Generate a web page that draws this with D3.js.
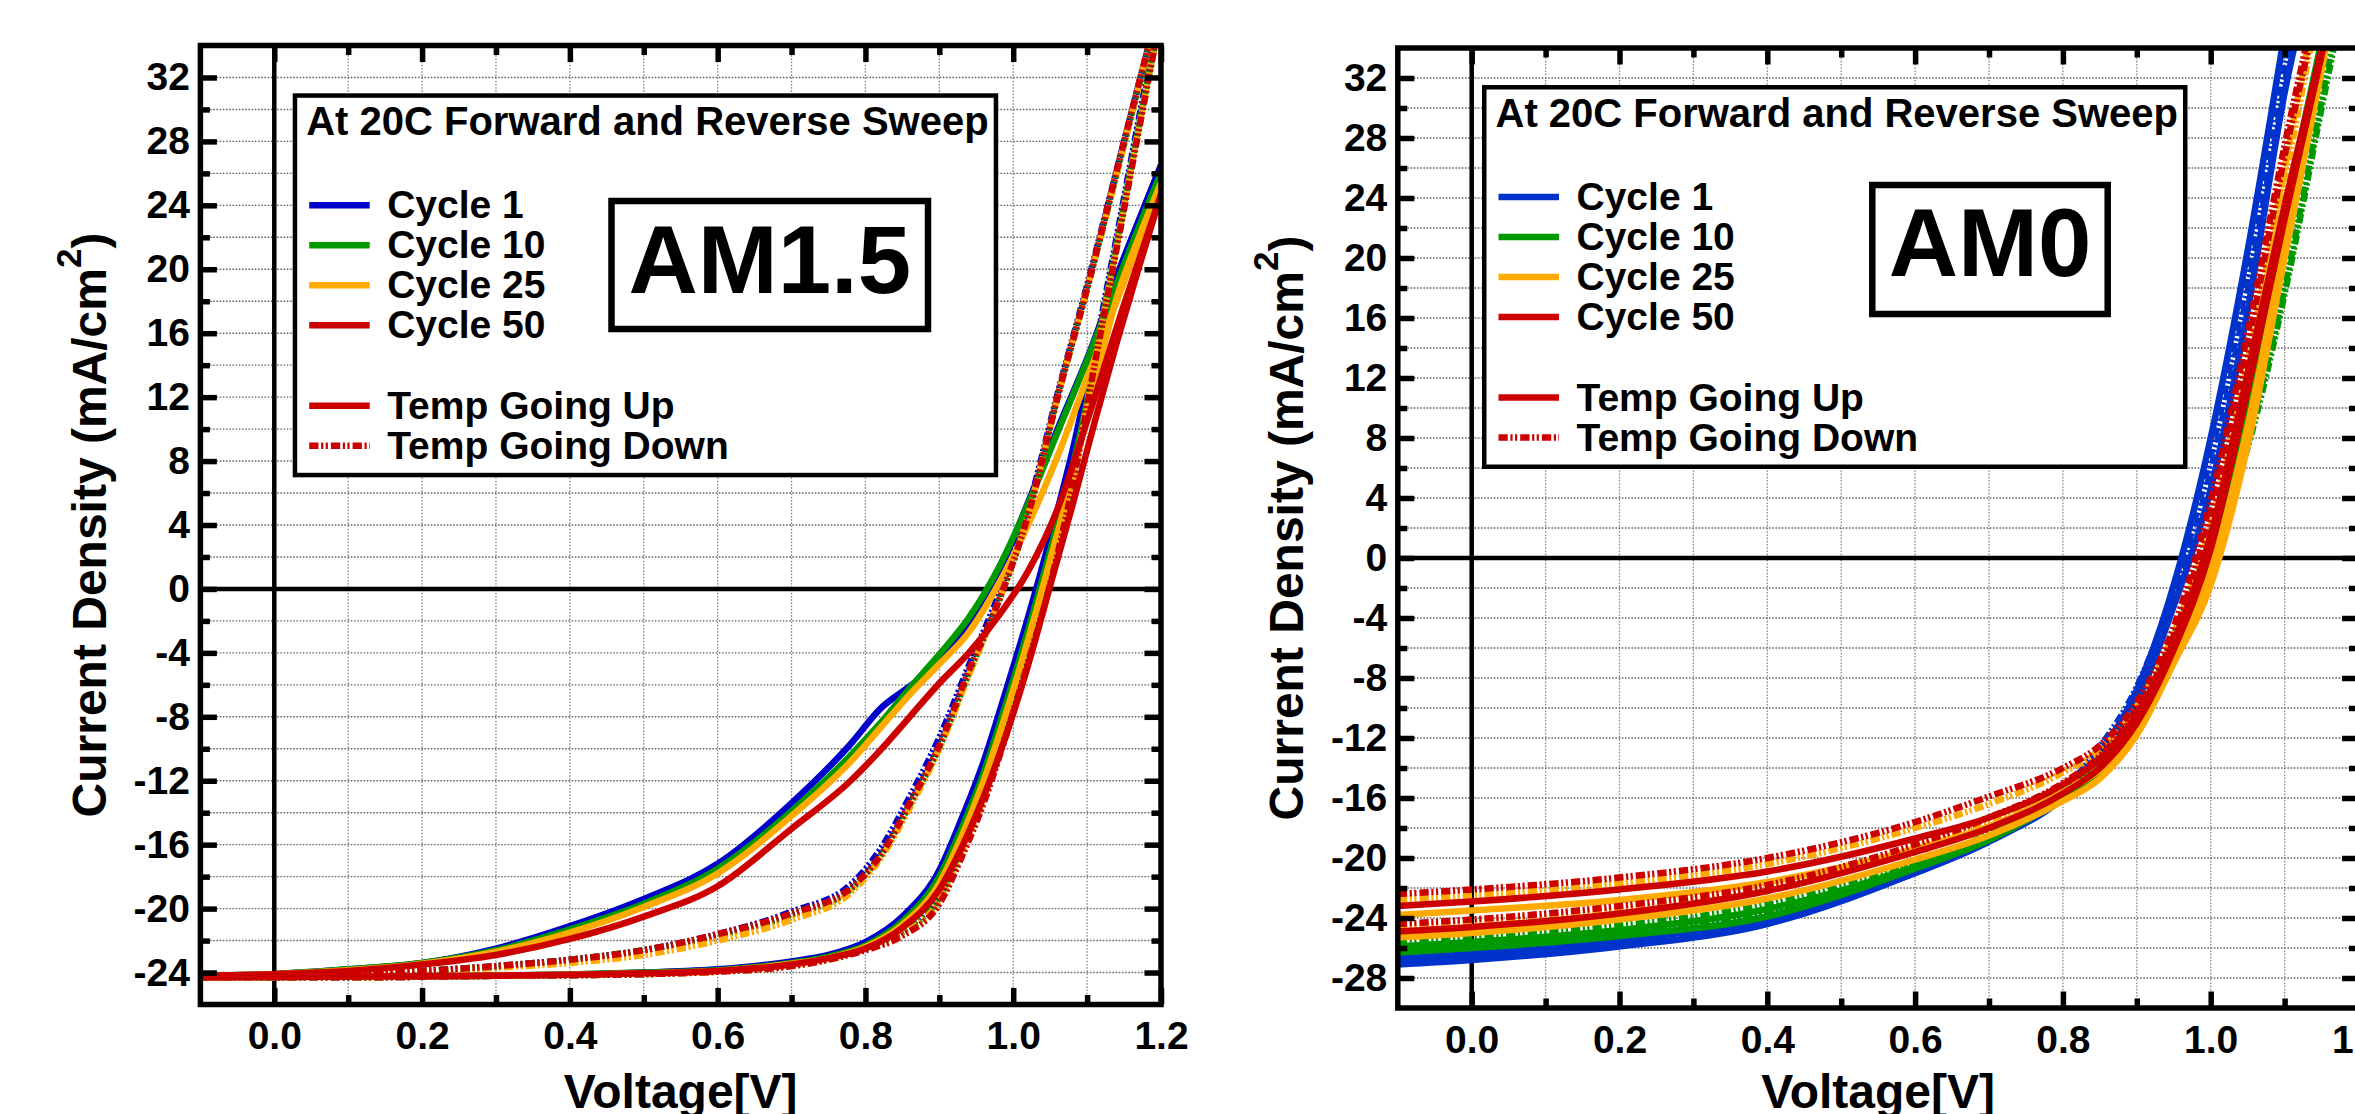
<!DOCTYPE html>
<html>
<head>
<meta charset="utf-8">
<script src="https://cdn.jsdelivr.net/npm/d3@7"></script>
<style>
  html, body { margin: 0; padding: 0; background: #fff; }
  svg { display: block; }
  text { font-family: "Liberation Sans", Arial, Helvetica, sans-serif; font-weight: bold; }
</style>
</head>
<body>
<svg id="chart" width="2355" height="1114"></svg>
<script>
// ---- ticks ----
const xMajorTicks = [0, 0.2, 0.4, 0.6, 0.8, 1.0, 1.2]
const xMinorTicks = [0.1, 0.3, 0.5, 0.7, 0.9, 1.1]
const am15YMajor = [-24, -20, -16, -12, -8, -4, 0, 4, 8, 12, 16, 20, 24, 28, 32]
const am15YMinor = [-22, -18, -14, -10, -6, -2, 2, 6, 10, 14, 18, 22, 26, 30]
const am0YMajor = [-28, -24, -20, -16, -12, -8, -4, 0, 4, 8, 12, 16, 20, 24, 28, 32]
const am0YMinor = [-26, -22, -18, -14, -10, -6, -2, 2, 6, 10, 14, 18, 22, 26, 30]

const legendCycles = ["Cycle 1", "Cycle 10", "Cycle 25", "Cycle 50"]
const legendTemps = ["Temp Going Up", "Temp Going Down"]

// ---- AM1.5 panel: voltage grids (V) ----
const am15VFwd = [-0.1, 0.0, 0.1, 0.2, 0.3, 0.4, 0.5, 0.6, 0.7, 0.78, 0.82, 0.86, 0.9, 0.94, 0.98, 1.02, 1.06, 1.1, 1.15, 1.2]
const am15VRev = [-0.1, 0.1, 0.3, 0.5, 0.6, 0.7, 0.75, 0.8, 0.85, 0.9, 0.93, 0.96, 0.99, 1.02, 1.05, 1.08, 1.11, 1.14, 1.17, 1.2]

// current density (mA/cm2), Up = temp going up (solid), Down = temp going down (dash-dot-dot)
const am15C1UpFwd = [-24.2, -24.1, -23.8, -23.4, -22.5, -21.1, -19.4, -17.2, -13.4, -9.7, -7.5, -6.1, -4.6, -2.2, 1.0, 5.4, 10.0, 14.4, 20.7, 26.5]
const am15C1UpRev = [-24.3, -24.25, -24.2, -24.0, -23.8, -23.3, -22.9, -22.1, -20.5, -17.6, -14.4, -10.8, -6.4, -1.8, 3.2, 8.6, 14.8, 19.5, 23.0, 26.5]
const am15C1DownFwd = [-24.2, -24.2, -24.1, -23.9, -23.6, -23.2, -22.6, -21.6, -20.2, -18.5, -16.3, -13.0, -9.3, -4.8, -0.4, 5.0, 12.2, 19.0, 28.0, 37.0]
const am15C1DownRev = [-24.3, -24.3, -24.2, -24.1, -23.9, -23.5, -23.1, -22.4, -21.4, -19.0, -15.8, -12.3, -8.2, -3.6, 1.2, 7.2, 14.7, 22.0, 29.4, 36.5]

const am15C10UpFwd = [-24.2, -24.1, -23.8, -23.4, -22.6, -21.3, -19.7, -17.5, -13.9, -10.4, -8.4, -6.2, -4.1, -1.8, 1.3, 5.3, 9.8, 14.3, 20.3, 26.0]
const am15C10UpRev = [-24.3, -24.25, -24.2, -24.0, -23.85, -23.4, -23.0, -22.3, -20.8, -18.0, -15.0, -11.5, -7.2, -2.6, 2.4, 7.6, 13.6, 18.8, 22.6, 26.0]
const am15C10DownFwd = [-24.2, -24.2, -24.1, -23.9, -23.6, -23.2, -22.6, -21.7, -20.4, -18.8, -16.7, -13.5, -9.9, -5.3, -0.8, 4.6, 12.0, 18.8, 27.8, 37.0]
const am15C10DownRev = [-24.3, -24.3, -24.2, -24.1, -23.9, -23.5, -23.1, -22.4, -21.5, -19.3, -16.2, -12.8, -8.6, -4.0, 0.8, 6.8, 14.3, 21.6, 29.0, 36.0]

const am15C25UpFwd = [-24.2, -24.1, -23.85, -23.45, -22.7, -21.5, -19.9, -17.8, -14.2, -10.8, -8.7, -6.6, -4.7, -2.7, 0.3, 4.0, 8.3, 13.2, 19.2, 25.4]
const am15C25UpRev = [-24.3, -24.25, -24.2, -24.05, -23.9, -23.45, -23.1, -22.4, -21.0, -18.4, -15.5, -12.0, -7.8, -3.2, 1.8, 7.0, 12.8, 18.2, 22.0, 25.4]
const am15C25DownFwd = [-24.2, -24.2, -24.1, -23.95, -23.7, -23.4, -22.9, -22.0, -20.7, -19.0, -16.9, -13.7, -10.0, -5.4, -0.8, 4.6, 12.0, 18.8, 27.8, 37.0]
const am15C25DownRev = [-24.3, -24.3, -24.2, -24.1, -23.95, -23.6, -23.2, -22.5, -21.6, -19.5, -16.5, -13.1, -8.9, -4.3, 0.5, 6.6, 14.1, 21.4, 28.8, 36.0]

const am15C50UpFwd = [-24.2, -24.1, -23.9, -23.5, -22.9, -21.9, -20.5, -18.6, -15.0, -12.0, -10.1, -8.0, -5.9, -4.0, -1.7, 1.1, 5.0, 10.5, 17.8, 24.7]
const am15C50UpRev = [-24.3, -24.25, -24.2, -24.05, -23.9, -23.5, -23.1, -22.5, -21.2, -18.8, -16.2, -13.0, -9.2, -4.8, 0.2, 5.2, 10.4, 15.4, 20.1, 24.7]
const am15C50DownFwd = [-24.2, -24.2, -24.1, -23.9, -23.6, -23.2, -22.6, -21.6, -20.3, -18.7, -16.7, -13.4, -9.8, -5.1, -0.8, 4.6, 12.0, 18.8, 28.0, 37.0]
const am15C50DownRev = [-24.3, -24.3, -24.2, -24.1, -23.95, -23.6, -23.2, -22.6, -21.7, -19.7, -16.8, -13.4, -9.2, -4.6, 0.3, 6.4, 14.0, 21.3, 28.7, 36.0]

// ---- AM0 panel ----
const am0V = [-0.1, 0.0, 0.2, 0.4, 0.6, 0.7, 0.8, 0.85, 0.9, 0.95, 1.0, 1.05, 1.1, 1.15, 1.2]

const am0C1UpFwd = [-26.7, -26.4, -25.5, -24.0, -21.0, -18.9, -15.8, -13.0, -8.8, -1.8, 8.0, 20.5, 35.0, 50, 65]
const am0C1UpRev = [-27.1, -26.8, -25.9, -24.4, -21.0, -18.9, -16.0, -13.5, -9.6, -3.2, 4.6, 16.5, 31.0, 42, 55]
const am0C1DownFwd = [-26.4, -26.1, -25.2, -23.7, -20.6, -18.6, -15.5, -12.6, -8.6, -2.2, 6.8, 18.8, 32.5, 47, 60]
const am0C1DownRev = [-26.8, -26.5, -25.6, -24.1, -20.9, -18.8, -15.7, -13.0, -9.2, -2.8, 5.8, 17.8, 31.5, 45, 58]

const am0C10UpFwd = [-25.9, -25.6, -24.8, -23.4, -20.6, -18.7, -15.9, -14.2, -11.0, -5.8, 0.8, 11.0, 23.0, 34.5, 47]
const am0C10UpRev = [-26.3, -26.0, -25.2, -23.9, -20.7, -18.8, -16.1, -14.6, -11.6, -6.4, 0.2, 10.0, 22.0, 33.5, 46]
const am0C10DownFwd = [-25.6, -25.3, -24.5, -23.1, -20.3, -18.4, -15.5, -13.8, -10.6, -5.2, 1.2, 8.0, 18.0, 30.5, 43]
const am0C10DownRev = [-26.0, -25.7, -24.9, -23.5, -20.5, -18.6, -15.8, -14.2, -11.2, -5.9, 0.6, 7.4, 17.6, 30.0, 42]

const am0C25UpFwd = [-23.8, -23.5, -22.8, -21.6, -19.4, -17.9, -15.6, -14.1, -11.2, -6.6, -0.8, 8.8, 21.0, 33.0, 45]
const am0C25UpRev = [-25.3, -25.0, -24.1, -22.7, -20.1, -18.5, -16.2, -14.7, -11.8, -7.0, -1.8, 7.5, 20.0, 32.5, 45]
const am0C25DownFwd = [-22.8, -22.5, -21.7, -20.4, -18.0, -16.4, -14.3, -12.8, -9.9, -5.0, 2.2, 13.0, 26.0, 39, 52]
const am0C25DownRev = [-24.6, -24.3, -23.4, -22.0, -19.3, -17.6, -15.2, -13.4, -10.4, -5.5, 1.6, 12.2, 25.0, 38, 51]

const am0C50UpFwd = [-23.2, -22.9, -22.1, -20.9, -18.7, -17.3, -15.1, -13.4, -10.4, -5.6, 1.5, 12.3, 23.5, 34.0, 46]
const am0C50UpRev = [-24.9, -24.6, -23.7, -22.2, -19.6, -18.0, -15.7, -14.0, -11.0, -6.1, 0.6, 11.2, 22.6, 33.5, 45]
const am0C50DownFwd = [-22.4, -22.1, -21.3, -20.0, -17.6, -15.9, -14.0, -12.5, -9.6, -4.6, 3.8, 15.0, 27.5, 39, 52]
const am0C50DownRev = [-24.4, -24.1, -23.2, -21.8, -19.1, -17.3, -15.0, -13.2, -10.2, -5.2, 3.0, 14.2, 26.8, 38, 51]

// ---- drawing ----
const red = "#cc0000", green = "#009900", orange = "#ffaa00"
const dashStyle = "9.3,2.6,2.2,2.4,2.2,3"
const svg = d3.select("#chart")

function pairs(v, j) {
  return v.map(function(d, i) { return [d, j[i]] })
}

function drawLegend(g, ox, oy, blue) {
  g.append("rect")
    .attr("x", ox + 2.25).attr("y", oy + 2.25)
    .attr("width", 701).attr("height", 379.5)
    .attr("fill", "#fff").attr("stroke", "#000").attr("stroke-width", 4.5)
  g.append("text")
    .attr("x", ox + 13.5).attr("y", oy + 42)
    .attr("font-size", 40)
    .text("At 20C Forward and Reverse Sweep")
  var entries = [
    {label: legendCycles[0], color: blue, dy: 112},
    {label: legendCycles[1], color: green, dy: 152},
    {label: legendCycles[2], color: orange, dy: 192},
    {label: legendCycles[3], color: red, dy: 232},
    {label: legendTemps[0], color: red, dy: 312.5},
    {label: legendTemps[1], color: red, dy: 352.5, dash: true}
  ]
  entries.forEach(function(e) {
    g.append("line")
      .attr("x1", ox + 16.5).attr("x2", ox + 77)
      .attr("y1", oy + e.dy).attr("y2", oy + e.dy)
      .attr("stroke", e.color).attr("stroke-width", 6.5)
      .attr("stroke-dasharray", e.dash ? dashStyle : null)
    g.append("text")
      .attr("x", ox + 94.5).attr("y", oy + e.dy + 13)
      .attr("font-size", 39)
      .text(e.label)
  })
}

function drawPanel(cfg) {
  var x = d3.scaleLinear().domain([-0.1, 1.2]).range(cfg.xRange)
  var y = d3.scaleLinear().domain(cfg.yDomain).range(cfg.yRange)
  var xl = cfg.xRange[0], xr = cfg.xRange[1]
  var yb = cfg.yRange[0], yt = cfg.yRange[1]
  var g = svg.append("g")

  g.append("clipPath").attr("id", cfg.id + "-clip")
    .append("rect")
    .attr("x", xl).attr("y", yt)
    .attr("width", xr - xl).attr("height", yb - yt)

  // dotted grid
  var xGrid = xMajorTicks.concat(xMinorTicks).filter(function(d) { return d !== 0 && d < 1.15 })
  var yGrid = cfg.yMajor.concat(cfg.yMinor).filter(function(d) { return d !== 0 })
  g.append("g").selectAll("line").data(xGrid).join("line")
    .attr("x1", function(d) { return x(d) }).attr("x2", function(d) { return x(d) })
    .attr("y1", yt).attr("y2", yb)
    .attr("stroke", "#8a8a8a").attr("stroke-width", 1.3)
    .attr("stroke-dasharray", "1.6,1.6")
  g.append("g").selectAll("line").data(yGrid).join("line")
    .attr("y1", function(d) { return y(d) }).attr("y2", function(d) { return y(d) })
    .attr("x1", xl).attr("x2", xr)
    .attr("stroke", "#666").attr("stroke-width", 1.4)
    .attr("stroke-dasharray", "1.6,1.6")

  drawLegend(g, cfg.legendX, cfg.legendY, cfg.blue)

  // label box
  g.append("rect")
    .attr("x", cfg.tag.x).attr("y", cfg.tag.y)
    .attr("width", cfg.tag.w).attr("height", cfg.tag.h)
    .attr("fill", "#fff").attr("stroke", "#000").attr("stroke-width", 6.5)
  g.append("text")
    .attr("x", cfg.tag.x + cfg.tag.w / 2).attr("y", cfg.tag.base)
    .attr("text-anchor", "middle").attr("font-size", 96)
    .text(cfg.tag.text)

  // zero lines
  g.append("line").attr("x1", x(0)).attr("x2", x(0)).attr("y1", yt).attr("y2", yb)
    .attr("stroke", "#000").attr("stroke-width", 4.5)
  g.append("line").attr("x1", xl).attr("x2", xr).attr("y1", y(0)).attr("y2", y(0))
    .attr("stroke", "#000").attr("stroke-width", 4.5)

  // curves
  var line = d3.line()
    .x(function(d) { return x(d[0]) })
    .y(function(d) { return y(d[1]) })
    .curve(d3.curveMonotoneX)
  g.append("g").attr("clip-path", "url(#" + cfg.id + "-clip)")
    .selectAll("path").data(cfg.series).join("path")
    .attr("d", function(s) { return line(pairs(s.v, s.j)) })
    .attr("fill", "none")
    .attr("stroke", function(s) { return s.color })
    .attr("stroke-width", 6.5)
    .attr("stroke-linejoin", "round")
    .attr("stroke-dasharray", function(s) { return s.dash ? dashStyle : null })

  // frame
  g.append("rect")
    .attr("x", xl).attr("y", yt).attr("width", xr - xl).attr("height", yb - yt)
    .attr("fill", "none").attr("stroke", "#000").attr("stroke-width", 5.5)

  // axes with inward ticks
  function styleAxis(a) {
    a.select(".domain").remove()
    a.selectAll(".tick line").attr("stroke", "#000").attr("stroke-width", 5.5)
    a.selectAll(".tick text")
      .attr("font-size", 39).attr("fill", "#000")
      .attr("font-family", "'Liberation Sans', Arial, sans-serif").attr("font-weight", "bold")
  }
  var fmtX = d3.format(".1f")
  var fmtY = function(d) { return String(d) }
  styleAxis(g.append("g").attr("transform", "translate(0," + yb + ")")
    .call(d3.axisBottom(x).tickValues(xMajorTicks).tickSize(-16.5).tickPadding(17).tickFormat(fmtX)))
  styleAxis(g.append("g").attr("transform", "translate(0," + yb + ")")
    .call(d3.axisBottom(x).tickValues(xMinorTicks).tickSize(-9.5).tickFormat("")))
  styleAxis(g.append("g").attr("transform", "translate(0," + yt + ")")
    .call(d3.axisTop(x).tickValues(xMajorTicks).tickSize(-16.5).tickFormat("")))
  styleAxis(g.append("g").attr("transform", "translate(0," + yt + ")")
    .call(d3.axisTop(x).tickValues(xMinorTicks).tickSize(-9.5).tickFormat("")))
  styleAxis(g.append("g").attr("transform", "translate(" + xl + ",0)")
    .call(d3.axisLeft(y).tickValues(cfg.yMajor).tickSize(-16.5).tickPadding(10.5).tickFormat(fmtY)))
  styleAxis(g.append("g").attr("transform", "translate(" + xl + ",0)")
    .call(d3.axisLeft(y).tickValues(cfg.yMinor).tickSize(-9.5).tickFormat("")))
  styleAxis(g.append("g").attr("transform", "translate(" + xr + ",0)")
    .call(d3.axisRight(y).tickValues(cfg.yMajor).tickSize(-16.5).tickFormat("")))
  styleAxis(g.append("g").attr("transform", "translate(" + xr + ",0)")
    .call(d3.axisRight(y).tickValues(cfg.yMinor).tickSize(-9.5).tickFormat("")))

  // axis titles
  g.append("text")
    .attr("x", (xl + xr) / 2).attr("y", 1108)
    .attr("text-anchor", "middle").attr("font-size", 48)
    .text("Voltage[V]")
  var yt2 = g.append("text")
    .attr("transform", "translate(" + (xl - 94.5) + "," + ((yt + yb) / 2) + ") rotate(-90)")
    .attr("text-anchor", "middle").attr("font-size", 48)
  yt2.append("tspan").text("Current Density (mA/cm")
  yt2.append("tspan").attr("font-size", 35).attr("dy", -25).text("2")
  yt2.append("tspan").attr("dy", 25).text(")")
}

function seriesSet(v1, v2, blue, sets) {
  var colors = [blue, green, orange, red]
  var out = []
  sets.forEach(function(s, i) {
    out.push({v: v1, j: s[0], color: colors[i]})
    out.push({v: v2, j: s[1], color: colors[i]})
    out.push({v: v1, j: s[2], color: colors[i], dash: true})
    out.push({v: v2, j: s[3], color: colors[i], dash: true})
  })
  return out
}

drawPanel({
  id: "am15",
  xRange: [200.4, 1161],
  yDomain: [-26, 34],
  yRange: [1004.5, 45.5],
  yMajor: am15YMajor,
  yMinor: am15YMinor,
  blue: "#0000cc",
  legendX: 292.7, legendY: 93.3,
  tag: {x: 611.5, y: 201, w: 316.5, h: 128, base: 293, text: "AM1.5"},
  series: seriesSet(am15VFwd, am15VRev, "#0000cc", [
    [am15C1UpFwd, am15C1UpRev, am15C1DownFwd, am15C1DownRev],
    [am15C10UpFwd, am15C10UpRev, am15C10DownFwd, am15C10DownRev],
    [am15C25UpFwd, am15C25UpRev, am15C25DownFwd, am15C25DownRev],
    [am15C50UpFwd, am15C50UpRev, am15C50DownFwd, am15C50DownRev]
  ])
})

drawPanel({
  id: "am0",
  xRange: [1397.8, 2358.5],
  yDomain: [-30, 34],
  yRange: [1008, 48],
  yMajor: am0YMajor,
  yMinor: am0YMinor,
  blue: "#0033cc",
  legendX: 1482, legendY: 85,
  tag: {x: 1872.3, y: 185, w: 235.4, h: 129, base: 276, text: "AM0"},
  series: seriesSet(am0V, am0V, "#0033cc", [
    [am0C1UpFwd, am0C1UpRev, am0C1DownFwd, am0C1DownRev],
    [am0C10UpFwd, am0C10UpRev, am0C10DownFwd, am0C10DownRev],
    [am0C25UpFwd, am0C25UpRev, am0C25DownFwd, am0C25DownRev],
    [am0C50UpFwd, am0C50UpRev, am0C50DownFwd, am0C50DownRev]
  ])
})
</script>
</body>
</html>
